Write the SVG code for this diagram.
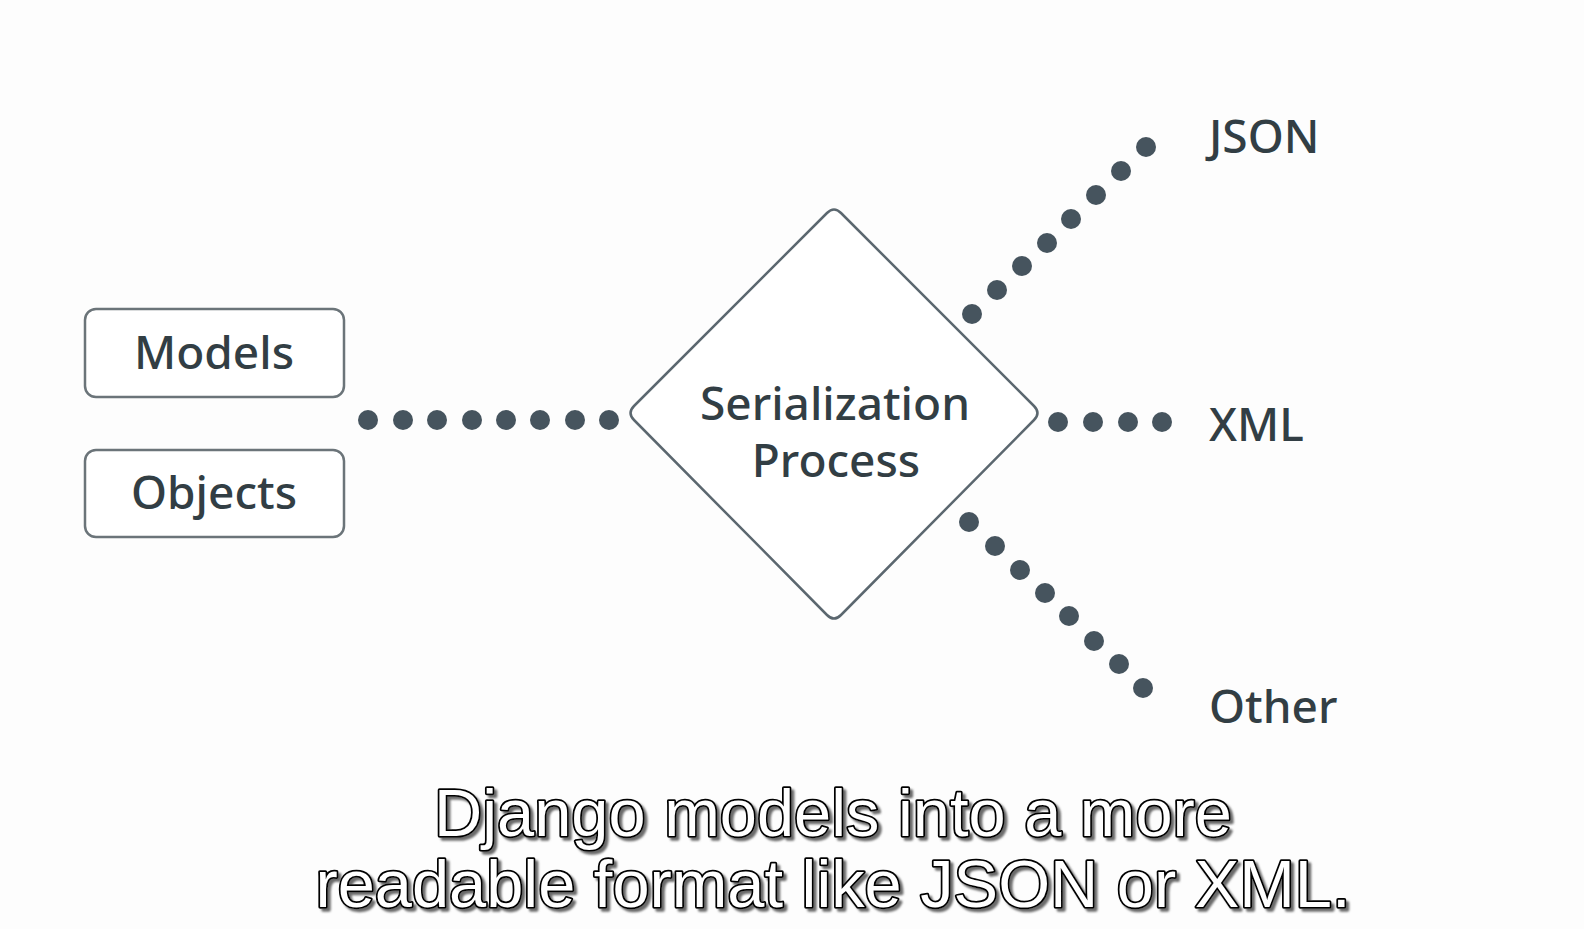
<svg xmlns="http://www.w3.org/2000/svg" width="1584" height="929" viewBox="0 0 1584 929">
<defs>
<filter id="shadow" x="-5%" y="-20%" width="110%" height="150%">
<feDropShadow dx="3" dy="3" stdDeviation="0.8" flood-color="#6a6a6a" flood-opacity="1"/>
</filter>
</defs>
<style>
.box{fill:#ffffff;stroke:#6b7479;stroke-width:2.5}
.lbl{font-family:"Noto Sans",sans-serif;font-size:46px;fill:#323e44;font-weight:500}
.dot{fill:#46545e}
.cap{font-family:"Liberation Sans",Arial,sans-serif;font-size:66px;text-anchor:middle;filter:url(#shadow)}
.capf{fill:#ffffff;stroke:#000000;stroke-width:3.5;paint-order:stroke;stroke-linejoin:round}
</style>
<rect width="1584" height="929" fill="#fdfdfd"/>
<g id="models">
<rect class="box" x="85" y="309" width="259" height="88" rx="11"/>
<text class="lbl" x="214" y="369" text-anchor="middle">Models</text>
</g>
<g id="objects">
<rect class="box" x="85" y="450" width="259" height="87" rx="11"/>
<text class="lbl" x="214" y="509" text-anchor="middle">Objects</text>
</g>
<g id="serialization">
<path d="M827,213 Q834,206 841,213 L1034,406 Q1041,413 1034,420 L841,615 Q834,622 827,615 L634,420 Q627,413 634,406 Z" fill="#ffffff" stroke="#5b676f" stroke-width="2.5"/>
<text class="lbl" x="835" y="420" text-anchor="middle">Serialization</text>
<text class="lbl" x="836" y="477" text-anchor="middle">Process</text>
</g>
<g id="json"><text class="lbl" x="1209" y="153">JSON</text></g>
<g id="xml"><text class="lbl" x="1209" y="441">XML</text></g>
<g id="other"><text class="lbl" x="1209" y="723">Other</text></g>
<g id="connectors">
<g class="dot">
<circle cx="368" cy="420" r="10"/><circle cx="403" cy="420" r="10"/><circle cx="437" cy="420" r="10"/><circle cx="472" cy="420" r="10"/><circle cx="506" cy="420" r="10"/><circle cx="540" cy="420" r="10"/><circle cx="575" cy="420" r="10"/><circle cx="609" cy="420" r="10"/>
</g>
<g class="dot">
<circle cx="972" cy="314" r="10"/><circle cx="997" cy="290" r="10"/><circle cx="1022" cy="266" r="10"/><circle cx="1047" cy="243" r="10"/><circle cx="1071" cy="219" r="10"/><circle cx="1096" cy="195" r="10"/><circle cx="1121" cy="171" r="10"/><circle cx="1146" cy="147" r="10"/>
</g>
<g class="dot">
<circle cx="1058" cy="422" r="10"/><circle cx="1093" cy="422" r="10"/><circle cx="1128" cy="422" r="10"/><circle cx="1162" cy="422" r="10"/>
</g>
<g class="dot">
<circle cx="969" cy="522" r="10"/><circle cx="995" cy="546" r="10"/><circle cx="1020" cy="570" r="10"/><circle cx="1045" cy="593" r="10"/><circle cx="1069" cy="616" r="10"/><circle cx="1094" cy="641" r="10"/><circle cx="1119" cy="664" r="10"/><circle cx="1143" cy="688" r="10"/>
</g>
</g>
<g id="caption" class="cap">
<text class="capf" x="833" y="836" textLength="798" lengthAdjust="spacingAndGlyphs">Django models into a more</text>
<text class="capf" x="833" y="907" textLength="1035" lengthAdjust="spacingAndGlyphs">readable format like JSON or XML.</text>
</g>
</svg>
